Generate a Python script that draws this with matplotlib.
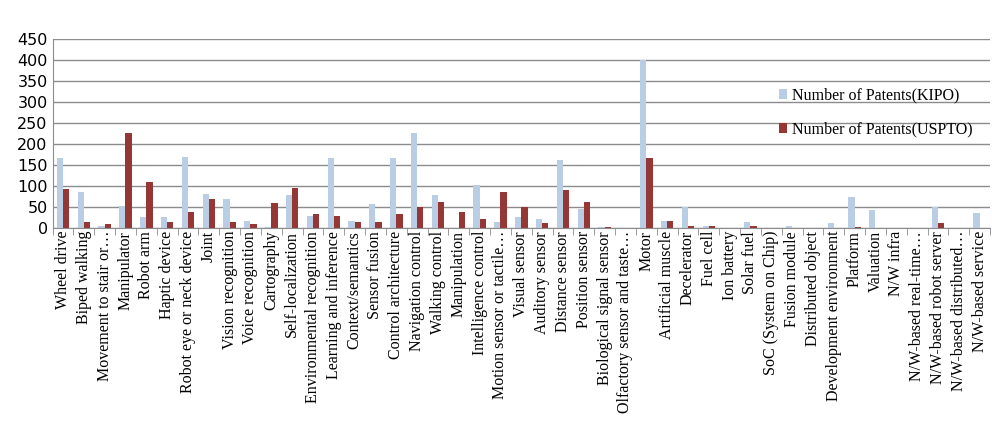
import numpy as np
import matplotlib.pyplot as plt

plt.rcParams['font.family'] = ['Liberation Serif', 'DejaVu Serif']

categories = ['Wheel drive', 'Biped walking', 'Movement to stair or…', 'Manipulator', 'Robot arm',
              'Haptic device', 'Robot eye or neck device', 'Joint', 'Vision recognition',
              'Voice recognition', 'Cartography', 'Self-localization', 'Environmental recognition',
              'Learning and inference', 'Context/semantics', 'Sensor fusion', 'Control architecture',
              'Navigation control', 'Walking control', 'Manipulation', 'Intelligence control',
              'Motion sensor or tactile…', 'Visual sensor', 'Auditory sensor', 'Distance sensor',
              'Position sensor', 'Biological signal sensor', 'Olfactory sensor and taste…', 'Motor',
              'Artificial muscle', 'Decelerator', 'Fuel cell', 'Ion battery', 'Solar fuel',
              'SoC (System on Chip)', 'Fusion module', 'Distributed object',
              'Development environment', 'Platform', 'Valuation', 'N/W infra',
              'N/W-based real-time…', 'N/W-based robot server', 'N/W-based distributed…',
              'N/W-based service']
kipo = [168, 85, 5, 52, 27, 27, 170, 82, 70, 16, 3, 78, 30, 168, 16, 57, 168, 228, 80, 0,
        102, 14, 27, 22, 162, 46, 2, 0, 400, 17, 50, 4, 0, 14, 0, 5, 0, 11, 75, 43, 0, 0,
        51, 0, 35]
uspto = [93, 14, 9, 228, 110, 14, 38, 70, 14, 9, 60, 96, 33, 30, 14, 14, 33, 50, 62, 38,
         22, 85, 50, 12, 90, 62, 3, 0, 168, 17, 5, 5, 0, 5, 0, 0, 0, 0, 3, 0, 0, 0,
         12, 0, 0]

fig = plt.figure(figsize=(9.92, 4.24), dpi=100)
ax = fig.add_axes([0.053, 0.462, 0.945, 0.445])
x = np.arange(len(categories))
w = 0.3
ax.bar(x - w / 2, kipo, w, color='#b9cde5', label='Number of Patents(KIPO)')
ax.bar(x + w / 2, uspto, w, color='#953735', label='Number of Patents(USPTO)')
ax.set_xlim(-0.5, len(categories) - 0.5)
ax.set_ylim(0, 450)
ax.set_yticks(range(0, 451, 50))
ax.yaxis.grid(True, color='#8c8c8c', linewidth=1)
ax.set_axisbelow(True)
for s in ['top', 'right']:
    ax.spines[s].set_visible(False)
ax.spines['left'].set_color('#8c8c8c')
ax.spines['bottom'].set_color('#8c8c8c')
ax.tick_params(axis='y', length=0, labelsize=11.5)
for lbl in ax.get_yticklabels():
    lbl.set_fontfamily('DejaVu Sans')
ax.set_xticks(np.arange(len(categories) + 1) - 0.5, minor=True)
ax.tick_params(axis='x', which='minor', length=5, color='#8c8c8c')
ax.set_xticks(x)
ax.set_xticklabels(categories, rotation=90, fontsize=11.5)
ax.tick_params(axis='x', which='major', length=0, pad=2)
ax.legend(loc='upper left', bbox_to_anchor=(0.76, 0.82), frameon=False, fontsize=11.5,
          handlelength=0.5, handleheight=0.6, handletextpad=0.3, labelspacing=1.1)
fig.savefig('out.png')
